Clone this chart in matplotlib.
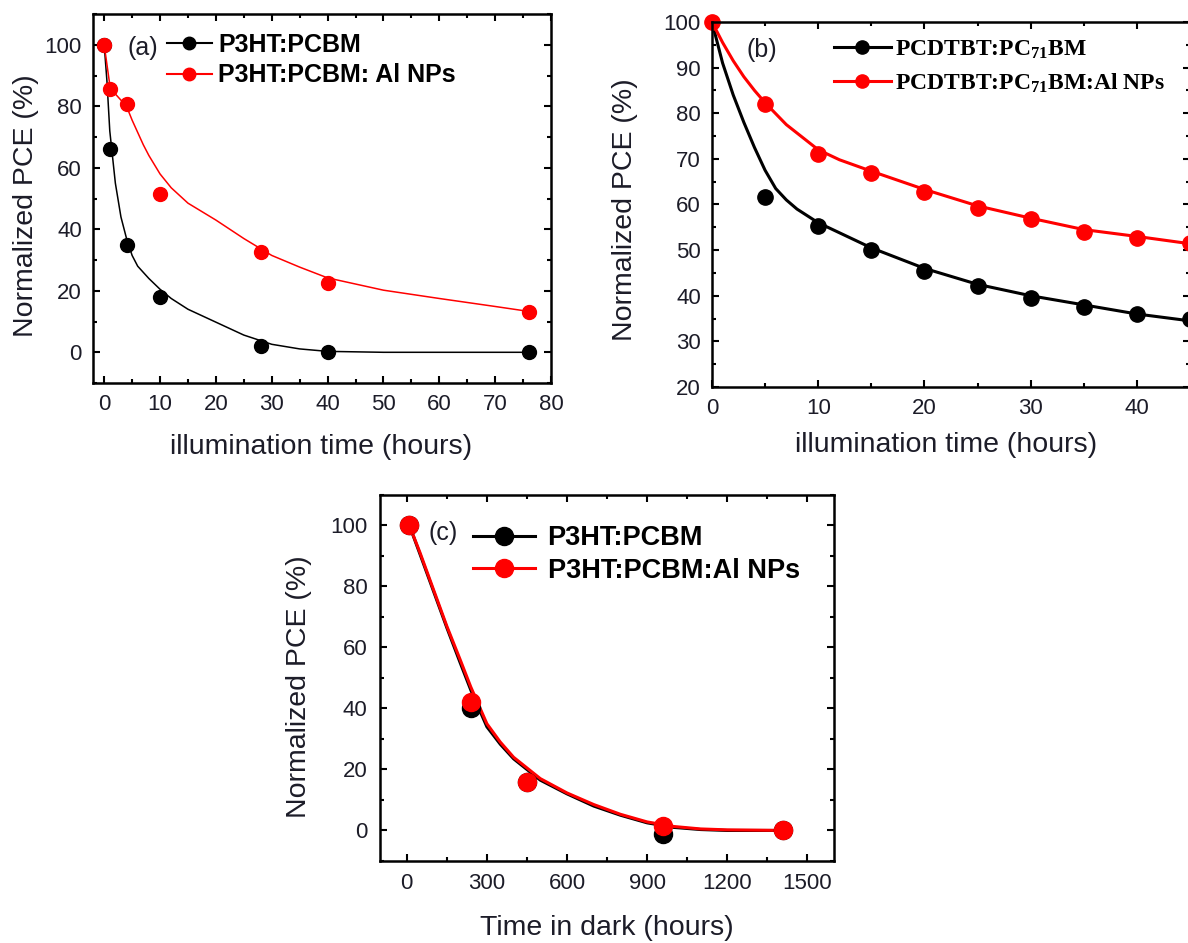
import numpy as np
import matplotlib
matplotlib.use("Agg")
import matplotlib.pyplot as plt
from matplotlib.lines import Line2D
from matplotlib.ticker import MultipleLocator

plt.rcParams['font.family'] = ['Liberation Sans', 'DejaVu Sans']
plt.rcParams['mathtext.fontset'] = 'custom'
plt.rcParams['mathtext.bf'] = 'Liberation Serif:bold'
plt.rcParams['mathtext.default'] = 'bf'

# ---- (a) illumination, P3HT:PCBM ----
t_a = [0, 1, 4, 10, 28, 40, 76]
pce_a_ref = [100, 66, 35, 18, 2, 0.2, 0.2]
pce_a_al = [100, 85.5, 80.8, 51.5, 32.6, 22.4, 13.2]
# fitted curves
fit_a_t_ref = [0, 0.5, 1, 2, 3, 4, 5, 6, 8, 10, 12, 15, 20, 25, 30, 35, 40, 50, 60, 76]
fit_a_ref = [100, 88, 72, 55, 44, 37, 31.5, 28, 24, 20.5, 17.5, 14, 9.8, 5.6, 2.6, 1.1, 0.3, 0, 0, 0]
fit_a_t_al = [0, 1, 2, 4, 5, 6, 7, 8, 10, 12, 15, 20, 25, 30, 35, 40, 50, 60, 70, 76]
fit_a_al = [100, 87, 84, 80, 75.5, 71.5, 67.5, 64, 58, 53.5, 48.5, 43, 37, 31.5, 27.7, 24.2, 20.2, 17.5, 14.9, 13.3]

# ---- (b) illumination, PCDTBT:PC71BM ----
t_b = [0, 5, 10, 15, 20, 25, 30, 35, 40, 45]
pce_b_ref = [100, 61.6, 55.2, 50, 45.4, 42.1, 39.6, 37.6, 36.1, 35]
pce_b_al = [100, 82, 71.1, 66.9, 62.8, 59.2, 56.9, 54, 52.7, 51.5]
fit_b_t_ref = [0, 1, 2, 3, 4, 5, 6, 7, 8, 10, 12, 15, 20, 25, 30, 35, 40, 45]
fit_b_ref = [100, 91, 84, 78, 72.5, 67.5, 63.5, 61, 59, 56, 53.8, 50.5, 46, 42.5, 40, 38, 36, 34.5]
fit_b_t_al = [0, 1, 2, 3, 4, 5, 7, 10, 12, 15, 20, 25, 30, 35, 40, 45]
fit_b_al = [100, 95.5, 91.5, 88, 85, 82.3, 77.5, 72, 69.8, 67.3, 63.3, 59.7, 57, 54.5, 53, 51.4]

# ---- (c) dark storage ----
t_c = [10, 240, 450, 960, 1410]
pce_c_ref = [100, 40, 16, -1, 0]
pce_c_al = [100, 42, 16, 1.5, 0]
fit_c_t = [10, 50, 100, 150, 200, 240, 300, 350, 400, 450, 500, 600, 700, 800, 900, 1000, 1100, 1200, 1410]
fit_c_al = [100, 91, 79, 67, 56, 47, 35, 29, 24, 20.5, 17, 12.3, 8.5, 5.3, 2.8, 1.3, 0.5, 0.2, 0]
fit_c_ref = [100, 90.5, 78.5, 66.5, 55, 46, 34, 28.3, 23.5, 20, 16.5, 12, 8, 5, 2.5, 1, 0.3, 0, 0]

RED = '#ff0000'
TXT = '#1c1c28'

fig = plt.figure(figsize=(11.88, 9.43), dpi=100)
ax_a = fig.add_axes([0.0783, 0.5938, 0.3855, 0.3913])
ax_b = fig.add_axes([0.5993, 0.5896, 0.4024, 0.3871])
ax_c = fig.add_axes([0.3199, 0.0870, 0.3822, 0.3881])


def style(ax, tsize, pad):
    for s in ax.spines.values():
        s.set_linewidth(1.8)
    ax.tick_params(which='both', direction='in', top=True, right=True,
                   width=1.5, labelsize=tsize, labelcolor=TXT, pad=pad)
    ax.tick_params(which='major', length=5)
    ax.tick_params(which='minor', length=3)


# (a)
ax = ax_a
ax.plot(fit_a_t_ref, fit_a_ref, color='black', lw=1.1)
ax.plot(fit_a_t_al, fit_a_al, color=RED, lw=1.1)
ax.plot(t_a, pce_a_ref, 'o', color='black', ms=10)
ax.plot(t_a, pce_a_al, 'o', color=RED, ms=10)
ax.set_xlim(-2, 80)
ax.set_ylim(-10, 110)
ax.xaxis.set_major_locator(MultipleLocator(10))
ax.xaxis.set_minor_locator(MultipleLocator(5))
ax.yaxis.set_major_locator(MultipleLocator(20))
ax.yaxis.set_minor_locator(MultipleLocator(10))
style(ax, 16, 8)
ax.set_xlabel('illumination time (hours)', fontsize=20.5, color=TXT)
ax.set_ylabel('Normalized PCE (%)', fontsize=20.5, color=TXT)
ax.xaxis.set_label_coords(0.497, -0.173)
ax.yaxis.set_label_coords(-0.146, 0.48)
ax.xaxis.label.set_va('center')
ax.yaxis.label.set_va('center')
ax.text(0.076, 0.908, '(a)', transform=ax.transAxes, fontsize=18, color=TXT, va='center')
h = [Line2D([], [], color='black', lw=1.5, marker='o', ms=9),
     Line2D([], [], color=RED, lw=1.5, marker='o', ms=9)]
ax.legend(h, ['P3HT:PCBM', 'P3HT:PCBM: Al NPs'], loc='upper left',
          bbox_to_anchor=(0.161, 0.948), frameon=False, borderpad=0, borderaxespad=0,
          handlelength=1.8, handletextpad=0.25, labelspacing=0.25,
          prop={'weight': 'bold', 'size': 18})

# (b)
ax = ax_b
ax.plot(fit_b_t_ref, fit_b_ref, color='black', lw=2.2)
ax.plot(fit_b_t_al, fit_b_al, color=RED, lw=2.2)
ax.plot(t_b[1:], pce_b_ref[1:], 'o', color='black', ms=11, clip_on=False)
ax.plot(t_b, pce_b_al, 'o', color=RED, ms=11, clip_on=False)
ax.set_xlim(0, 45)
ax.set_ylim(20, 100)
ax.xaxis.set_major_locator(MultipleLocator(10))
ax.xaxis.set_minor_locator(MultipleLocator(5))
ax.yaxis.set_major_locator(MultipleLocator(10))
ax.yaxis.set_minor_locator(MultipleLocator(5))
style(ax, 16, 8)
ax.set_xlabel('illumination time (hours)', fontsize=20.5, color=TXT)
ax.set_ylabel('Normalized PCE (%)', fontsize=20.5, color=TXT)
ax.xaxis.set_label_coords(0.49, -0.159)
ax.yaxis.set_label_coords(-0.182, 0.485)
ax.xaxis.label.set_va('center')
ax.yaxis.label.set_va('center')
ax.text(0.073, 0.923, '(b)', transform=ax.transAxes, fontsize=18, color=TXT, va='center')
h = [Line2D([], [], color='black', lw=2.2, marker='o', ms=9.5),
     Line2D([], [], color=RED, lw=2.2, marker='o', ms=9.5)]
ax.legend(h, ['PCDTBT:PC$_{71}$BM', 'PCDTBT:PC$_{71}$BM:Al NPs'], loc='upper left',
          bbox_to_anchor=(0.255, 0.955), frameon=False, borderpad=0, borderaxespad=0,
          handlelength=2.4, handletextpad=0.2, labelspacing=0.45,
          prop={'family': 'Liberation Serif', 'weight': 'bold', 'size': 17})

# (c)
ax = ax_c
ax.plot(fit_c_t, fit_c_ref, color='black', lw=2.2)
ax.plot(fit_c_t, fit_c_al, color=RED, lw=2.2)
ax.plot(t_c, pce_c_ref, 'o', color='black', ms=13)
ax.plot(t_c, pce_c_al, 'o', color=RED, ms=13)
ax.set_xlim(-100, 1600)
ax.set_ylim(-10, 110)
ax.xaxis.set_major_locator(MultipleLocator(300))
ax.xaxis.set_minor_locator(MultipleLocator(150))
ax.yaxis.set_major_locator(MultipleLocator(20))
ax.yaxis.set_minor_locator(MultipleLocator(10))
style(ax, 16, 9)
ax.set_xlabel('Time in dark (hours)', fontsize=20.5, color=TXT)
ax.set_ylabel('Normalized PCE (%)', fontsize=20.5, color=TXT)
ax.xaxis.set_label_coords(0.50, -0.183)
ax.yaxis.set_label_coords(-0.178, 0.476)
ax.xaxis.label.set_va('center')
ax.yaxis.label.set_va('center')
ax.text(0.106, 0.896, '(c)', transform=ax.transAxes, fontsize=18, color=TXT, va='center')
h = [Line2D([], [], color='black', lw=2.2, marker='o', ms=13),
     Line2D([], [], color=RED, lw=2.2, marker='o', ms=13)]
ax.legend(h, ['P3HT:PCBM', 'P3HT:PCBM:Al NPs'], loc='upper left',
          bbox_to_anchor=(0.205, 0.918), frameon=False, borderpad=0, borderaxespad=0,
          handlelength=2.3, handletextpad=0.45, labelspacing=0.25,
          prop={'weight': 'bold', 'size': 19.5})

fig.savefig('out.png', dpi=100)
